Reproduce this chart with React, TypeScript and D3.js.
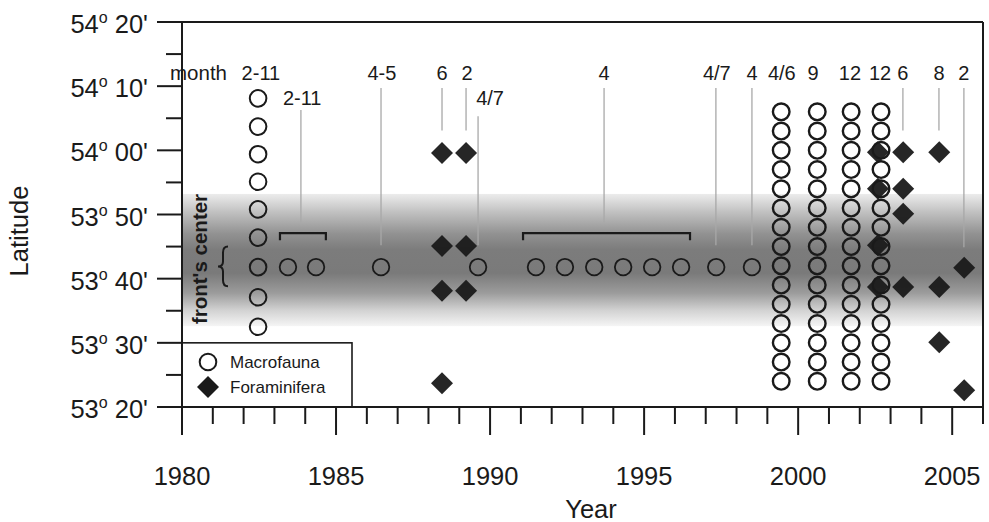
import React, { useEffect } from "react";
import * as d3 from "d3";

// ---------- data ----------
// latitude expressed in minutes north of 53°00'
const yearDomain = [1980, 2006];
const latDomain = [20, 80];
const xMajorTicks = [1980, 1985, 1990, 1995, 2000, 2005];
const xMinorTicks = [1981, 1982, 1983, 1984, 1986, 1987, 1988, 1989, 1991, 1992, 1993, 1994, 1996, 1997, 1998, 1999, 2001, 2002, 2003, 2004, 2006];
const yMajorTicks = [20, 30, 40, 50, 60, 70, 80];
const yMinorTicks = [25, 35, 45, 55, 65, 75];

// 1982 transect
const transect1982Year = 1982.47;
const transect1982Lats = [68.1, 63.7, 59.4, 55.1, 50.8, 46.4, 41.8, 37.1, 32.5];

// single stations at the front's center
const frontLat = 41.8;
const frontYears = [1983.44, 1984.35, 1986.46, 1989.61, 1991.49, 1992.43, 1993.38, 1994.32, 1995.26, 1996.2, 1997.34, 1998.5];

// dense transects 1999-2002
const denseYears = [1999.45, 2000.62, 2001.72, 2002.69];
const denseLats = [24, 27, 30, 33, 36, 39, 42, 45, 48, 51, 54, 57, 60, 63, 66];

// Foraminifera stations
const foraYears = [1988.44, 1989.22, 2002.59, 2003.41, 2004.58, 2005.39];
const foraLats = [
  [59.6, 45.1, 38.1, 23.7],
  [59.6, 45.1, 38.1],
  [59.7, 54.0, 45.2, 38.7],
  [59.7, 54.0, 50.1, 38.7],
  [59.7, 38.7, 30.1],
  [41.7, 22.6],
];

// month labels: text, label year, row, leader year, leader top/bottom latitude
const monthLabels = ["2-11", "2-11", "4-5", "6", "2", "4/7", "4", "4/7", "4", "4/6", "9", "12", "12", "6", "8", "2"];
const labelYears = [1982.56, 1983.9, 1986.49, 1988.44, 1989.25, 1990.0, 1993.7, 1997.36, 1998.5, 1999.47, 2000.48, 2001.68, 2002.66, 2003.4, 2004.57, 2005.38];
const labelRows = [0, 1, 0, 0, 0, 1, 0, 0, 0, 0, 0, 0, 0, 0, 0, 0];
const leaderYears = [null, 1983.86, 1986.46, 1988.44, 1989.22, 1989.61, 1993.7, 1997.33, 1998.5, null, null, null, null, 2003.4, 2004.57, 2005.38];
const leaderTops = [null, 66.3, 69.7, 69.7, 69.7, 65.3, 69.7, 69.7, 69.7, null, null, null, null, 69.7, 69.7, 69.7];
const leaderBottoms = [null, 48.8, 45.2, 63.1, 63.1, 45.2, 48.8, 45.2, 45.2, null, null, null, null, 63.1, 63.1, 44.9];

// brackets grouping stations
const bracketStarts = [1983.18, 1991.07];
const bracketEnds = [1984.67, 1996.49];
const bracketLat = 47.1;
const bracketTipLat = 46.0;

// front band
const bandTopLat = 53.2;
const bandBottomLat = 32.6;
const braceTopLat = 45.0;
const braceBottomLat = 38.8;

const legendItems = ["Macrofauna", "Foraminifera"];

// ---------- layout ----------
const W = 989;
const H = 522;
const FONT = "'Liberation Sans', Arial, Helvetica, sans-serif";
const INK = "#1a1a1a";

const x = d3.scaleLinear().domain(yearDomain).range([182, 983]);
const y = d3.scaleLinear().domain(latDomain).range([407, 22]);

function latLabel(m: number) {
  const deg = 53 + Math.floor(m / 60);
  const min = m % 60;
  return { deg: String(deg), min: (min < 10 ? "0" : "") + String(min) + "'" };
}

function diamond(cx: number, cy: number, r: number) {
  return `M${cx},${cy - r}L${cx + r},${cy}L${cx},${cy + r}L${cx - r},${cy}Z`;
}

export default function App() {
  useEffect(() => {
    document.body.style.margin = "0";
  }, []);

  const left = x(1980);
  const right = x(2006);
  const top = y(80);
  const bottom = y(20);
  const bandY0 = y(bandTopLat);
  const bandY1 = y(bandBottomLat);

  const bx = 223;
  const bt = y(braceTopLat);
  const bb = y(braceBottomLat);
  const bm = (bt + bb) / 2;
  const bracePath = `M${bx + 5},${bt} Q${bx},${bt} ${bx},${bt + 6} L${bx},${bm - 5} Q${bx},${bm} ${bx - 5},${bm} Q${bx},${bm} ${bx},${bm + 5} L${bx},${bb - 6} Q${bx},${bb} ${bx + 5},${bb}`;

  return (
    <svg width={W} height={H} style={{ display: "block", position: "absolute", left: 0, top: 0, background: "#fff" }} fontFamily={FONT}>
      <defs>
        <linearGradient id="band" x1="0" y1="0" x2="0" y2="1">
          <stop offset="0" stopColor="#ececec" />
          <stop offset="0.14" stopColor="#c0c0c0" />
          <stop offset="0.3" stopColor="#929292" />
          <stop offset="0.42" stopColor="#7c7c7c" />
          <stop offset="0.6" stopColor="#7a7a7a" />
          <stop offset="0.75" stopColor="#9c9c9c" />
          <stop offset="0.88" stopColor="#d2d2d2" />
          <stop offset="1" stopColor="#f5f5f5" />
        </linearGradient>
      </defs>

      {/* front band */}
      <rect x={left} y={bandY0} width={right - left} height={bandY1 - bandY0} fill="url(#band)" />

      {/* leader lines */}
      {leaderYears.map((ly, i) =>
        ly == null ? null : (
          <line key={"ld" + i} x1={x(ly)} x2={x(ly)} y1={y(leaderTops[i] as number)} y2={y(leaderBottoms[i] as number)} stroke="#a8a8a8" strokeWidth={1.3} />
        )
      )}

      {/* brackets */}
      {bracketStarts.map((bs, i) => (
        <path
          key={"br" + i}
          d={`M${x(bs)},${y(bracketTipLat)}V${y(bracketLat)}H${x(bracketEnds[i])}V${y(bracketTipLat)}`}
          fill="none"
          stroke={INK}
          strokeWidth={2.2}
        />
      ))}

      {/* month labels */}
      <text x={170} y={80} fontSize={20.5} fill={INK}>month</text>
      {monthLabels.map((t, i) => (
        <text key={"ml" + i} x={x(labelYears[i])} y={labelRows[i] === 0 ? 80 : 105} fontSize={20} textAnchor="middle" fill={INK}>
          {t}
        </text>
      ))}

      {/* macrofauna circles */}
      <g fill="none" stroke={INK} strokeWidth={2}>
        {transect1982Lats.map((la, i) => (
          <circle key={"t82" + i} cx={x(transect1982Year)} cy={y(la)} r={8.3} />
        ))}
        {frontYears.map((yr, i) => (
          <circle key={"fr" + i} cx={x(yr)} cy={y(frontLat)} r={8.3} strokeWidth={1.8} />
        ))}
        {denseYears.map((yr, j) =>
          denseLats.map((la, i) => <circle key={"d" + j + "_" + i} cx={x(yr)} cy={y(la)} r={8.3} strokeWidth={2.4} />)
        )}
      </g>

      {/* foraminifera diamonds */}
      <g fill={INK} fillOpacity={0.95}>
        {foraYears.map((yr, j) =>
          foraLats[j].map((la, i) => <path key={"f" + j + "_" + i} d={diamond(x(yr), y(la), 11)} />)
        )}
      </g>

      {/* front's center label and brace */}
      <text
        x={0}
        y={0}
        transform={`translate(207,259) rotate(-90)`}
        fontSize={20.5}
        fontWeight="bold"
        textAnchor="middle"
        fill={INK}
      >
        front's center
      </text>
      <path d={bracePath} fill="none" stroke={INK} strokeWidth={2} />

      {/* legend */}
      <rect x={left} y={y(30)} width={170} height={bottom - y(30)} fill="#fff" stroke={INK} strokeWidth={1.6} />
      <circle cx={208} cy={362} r={8.3} fill="none" stroke={INK} strokeWidth={2} />
      <path d={diamond(208, 387, 11)} fill={INK} />
      <text x={230} y={368} fontSize={17} fill={INK}>{legendItems[0]}</text>
      <text x={230} y={393} fontSize={17} fill={INK}>{legendItems[1]}</text>

      {/* frame and axes */}
      <g stroke={INK} strokeWidth={2} fill="none">
        <line x1={157} x2={right} y1={top} y2={top} />
        <line x1={right} x2={right} y1={top} y2={bottom} />
        <line x1={left} x2={right} y1={bottom} y2={bottom} />
        <line x1={left} x2={left} y1={top} y2={bottom + 28} />
        {yMajorTicks.map((t) => (
          <line key={"ym" + t} x1={157} x2={left} y1={y(t)} y2={y(t)} />
        ))}
        {yMinorTicks.map((t) => (
          <line key={"yn" + t} x1={166} x2={left} y1={y(t)} y2={y(t)} />
        ))}
        {xMajorTicks.map((t) => (
          <line key={"xm" + t} x1={x(t)} x2={x(t)} y1={bottom} y2={bottom + 28} />
        ))}
        {xMinorTicks.map((t) => (
          <line key={"xn" + t} x1={x(t)} x2={x(t)} y1={bottom} y2={bottom + 17} />
        ))}
      </g>

      {/* y tick labels */}
      {yMajorTicks.map((t) => {
        const l = latLabel(t);
        return (
          <text key={"yl" + t} x={148} y={y(t) + 11} fontSize={25.5} textAnchor="end" fill={INK}>
            {l.deg}
            <tspan fontSize={16} dy={-10}>o</tspan>
            <tspan dy={10}>{" " + l.min}</tspan>
          </text>
        );
      })}

      {/* x tick labels */}
      {xMajorTicks.map((t) => (
        <text key={"xl" + t} x={x(t)} y={485} fontSize={25.5} textAnchor="middle" fill={INK}>
          {t}
        </text>
      ))}

      {/* axis titles */}
      <text x={591} y={518} fontSize={25.5} textAnchor="middle" fill={INK}>Year</text>
      <text transform={`translate(28,231) rotate(-90)`} fontSize={25.5} textAnchor="middle" fill={INK}>Latitude</text>
    </svg>
  );
}
